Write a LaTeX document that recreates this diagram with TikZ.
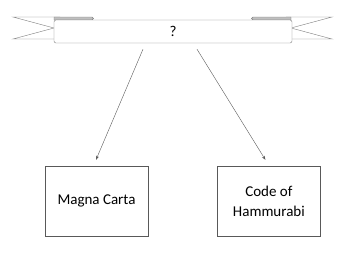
\documentclass[tikz,border=0pt]{standalone}
\usepackage{fontspec}
\setmainfont{Carlito}
\usetikzlibrary{arrows.meta, positioning, calc}
\definecolor{rline}{HTML}{7f7f7f}
\definecolor{bline}{HTML}{595959}
\definecolor{foldgray}{HTML}{bfbfbf}

\begin{document}
\begin{tikzpicture}[
    x=1pt, y=-1pt,
    ribbon/.style={rectangle, rounded corners=2pt, draw=rline, fill=white, minimum width=238pt, minimum height=23pt, font=\fontsize{15}{18}\selectfont},
    block/.style={rectangle, draw=bline, fill=white, minimum width=103pt, minimum height=70pt, align=center, font=\fontsize{15}{20}\selectfont},
    arrow/.style={-{Stealth[length=4pt, width=3pt]}, bline, thin}
]
\useasboundingbox (0,0) rectangle (357,260);

% Tails of the banner
\draw[rline, fill=white] (60,17) -- (13,17) -- (54,28) -- (13,39) -- (60,39);
\draw[rline, fill=white] (286,17) -- (332,17) -- (291,28) -- (332,39) -- (286,39);
\draw[rline, fill=foldgray] (54,20) -- (54,17) -- (92,17) arc[start angle=90, end angle=-90, x radius=1.5pt, y radius=1.5pt] -- cycle;
\draw[rline, fill=foldgray] (291,20) -- (291,17) -- (253,17) arc[start angle=90, end angle=270, x radius=1.5pt, y radius=1.5pt] -- cycle;

% Nodes
\node[ribbon] (banner) at (173,31.5) {?};
\node[block] (magna) at (96.5,201) {Magna Carta};
\node[block, right=69pt of magna] (code) {Code of\\Hammurabi};

% Arrows
\draw[arrow] ([xshift=-30pt, yshift=-6pt]banner.south) -- ([xshift=-0.5pt, yshift=6pt]magna.north);
\draw[arrow] ([xshift=24pt, yshift=-6pt]banner.south) -- ([xshift=-3.5pt, yshift=6pt]code.north);

\end{tikzpicture}
\end{document}
